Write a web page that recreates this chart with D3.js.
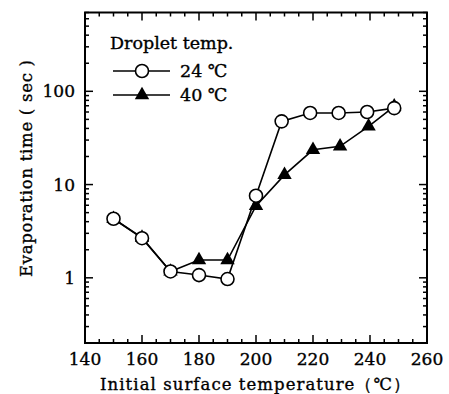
<!DOCTYPE html>
<html>
<head>
<meta charset="utf-8">
<script src="https://cdn.jsdelivr.net/npm/d3@7"></script>
<style>
	body { margin: 0; background: #fff; }
	text { stroke: #000; stroke-width: 0.35px; }
</style>
</head>
<body>
<script>

// surface temperature (°C) and evaporation time (sec)
const temp24 = [150, 160, 170, 180, 190, 200, 209, 219, 229, 239, 248.5];
const time24 = [4.3, 2.66, 1.17, 1.07, 0.97, 7.6, 47.6, 58.6, 58.6, 60, 66];

const temp40 = [150, 160, 170, 180, 190, 200, 210, 220, 229.5, 239.5, 248.5];
const time40 = [4.3, 2.7, 1.17, 1.55, 1.55, 5.9, 12.7, 23.6, 25.7, 42, 69];

const xTicks = [140, 160, 180, 200, 220, 240, 260];
const yTicks = [1, 10, 100];

const width = 449;
const height = 394;
const margin = {top: 12.5, right: 22, bottom: 51, left: 85};
const font = '"DejaVu Serif", "Liberation Serif", serif';

const svg = d3.select('body').append('svg')
	.attr('width', width)
	.attr('height', height)
	.attr('font-family', font);

const x = d3.scaleLinear()
	.domain([140, 260])
	.range([margin.left, width - margin.right]);

const y = d3.scaleLog()
	.domain([0.2, 700])
	.range([height - margin.bottom, margin.top]);

const x0 = x.range()[0], x1 = x.range()[1];
const y0 = y.range()[0], y1 = y.range()[1];

// minor ticks
const xAll = d3.range(140, 261, 5);
const yAll = [];
[0.1, 1, 10, 100].forEach(dec => {
	for (let k = 1; k <= 9; k++) {
		const v = +(dec * k).toPrecision(3);
		if (v >= 0.2 && v <= 700) yAll.push(v);
	}
});

const ticks = svg.append('g')
	.attr('stroke', '#000')
	.attr('stroke-width', 1.5);

xAll.forEach(v => {
	const len = v % 20 === 0 ? 8 : 4;
	ticks.append('line').attr('x1', x(v)).attr('x2', x(v)).attr('y1', y0).attr('y2', y0 - len);
	ticks.append('line').attr('x1', x(v)).attr('x2', x(v)).attr('y1', y1).attr('y2', y1 + len);
});

yAll.forEach(v => {
	const len = yTicks.includes(v) ? 8 : 4;
	ticks.append('line').attr('y1', y(v)).attr('y2', y(v)).attr('x1', x0).attr('x2', x0 + len);
	ticks.append('line').attr('y1', y(v)).attr('y2', y(v)).attr('x1', x1).attr('x2', x1 - len);
});

// frame
svg.append('rect')
	.attr('x', x0)
	.attr('y', y1)
	.attr('width', x1 - x0)
	.attr('height', y0 - y1)
	.attr('fill', 'none')
	.attr('stroke', '#000')
	.attr('stroke-width', 2);

// tick labels
svg.selectAll('.xlab')
	.data(xTicks)
	.enter().append('text')
	.attr('class', 'xlab')
	.attr('x', d => x(d))
	.attr('y', y0 + 22)
	.attr('text-anchor', 'middle')
	.attr('font-size', 17)
	.text(d => d);

svg.selectAll('.ylab')
	.data(yTicks)
	.enter().append('text')
	.attr('class', 'ylab')
	.attr('x', x0 - 10)
	.attr('y', d => y(d) + 6)
	.attr('text-anchor', 'end')
	.attr('font-size', 17)
	.text(d => d);

// axis titles
svg.append('text')
	.attr('x', 100)
	.attr('y', 390)
	.attr('font-size', 16.5)
	.attr('textLength', 310)
	.attr('lengthAdjust', 'spacing')
	.text('Initial surface temperature（℃）');

svg.append('text')
	.attr('transform', 'translate(32,277) rotate(-90)')
	.attr('font-size', 16.5)
	.attr('textLength', 217)
	.attr('lengthAdjust', 'spacing')
	.text('Evaporation time ( sec )');

// series
const line = d3.line()
	.x(d => x(d[0]))
	.y(d => y(d[1]));

const data24 = temp24.map((t, i) => [t, time24[i]]);
const data40 = temp40.map((t, i) => [t, time40[i]]);

const tri = d3.symbol().type(d3.symbolTriangle).size(90);

svg.append('path')
	.datum(data40)
	.attr('d', line)
	.attr('fill', 'none')
	.attr('stroke', '#000')
	.attr('stroke-width', 1.6);

svg.selectAll('.tri')
	.data(data40)
	.enter().append('path')
	.attr('class', 'tri')
	.attr('d', tri)
	.attr('transform', d => `translate(${x(d[0])},${y(d[1])})`)
	.attr('fill', '#000');

svg.append('path')
	.datum(data24)
	.attr('d', line)
	.attr('fill', 'none')
	.attr('stroke', '#000')
	.attr('stroke-width', 1.6);

svg.selectAll('.circ')
	.data(data24)
	.enter().append('circle')
	.attr('class', 'circ')
	.attr('cx', d => x(d[0]))
	.attr('cy', d => y(d[1]))
	.attr('r', 6.5)
	.attr('fill', '#fff')
	.attr('stroke', '#000')
	.attr('stroke-width', 1.6);

// legend
const legend = svg.append('g');

legend.append('text')
	.attr('x', 110)
	.attr('y', 49)
	.attr('font-size', 17.5)
	.text('Droplet temp.');

legend.append('line')
	.attr('x1', 113).attr('x2', 170)
	.attr('y1', 71).attr('y2', 71)
	.attr('stroke', '#000').attr('stroke-width', 1.6);

legend.append('circle')
	.attr('cx', 142).attr('cy', 71).attr('r', 6.5)
	.attr('fill', '#fff').attr('stroke', '#000').attr('stroke-width', 1.6);

legend.append('text')
	.attr('x', 180).attr('y', 77)
	.attr('font-size', 17.5)
	.text('24 ℃');

legend.append('line')
	.attr('x1', 113).attr('x2', 170)
	.attr('y1', 95).attr('y2', 95)
	.attr('stroke', '#000').attr('stroke-width', 1.6);

legend.append('path')
	.attr('d', tri)
	.attr('transform', 'translate(142,95)')
	.attr('fill', '#000');

legend.append('text')
	.attr('x', 180).attr('y', 101)
	.attr('font-size', 17.5)
	.text('40 ℃');

</script>
</body>
</html>
